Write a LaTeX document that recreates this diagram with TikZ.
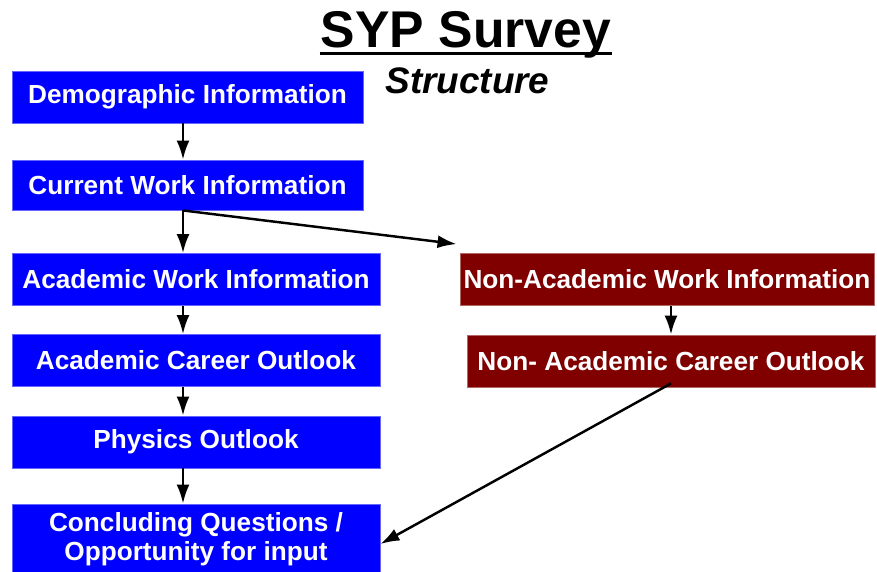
\documentclass[tikz,border=0pt]{standalone}
\usepackage{fontspec}
\setmainfont{Liberation Sans}
\usetikzlibrary{arrows.meta}

\definecolor{acadblue}{RGB}{0,0,255}
\definecolor{nonacadred}{RGB}{128,0,0}

\begin{document}
\begin{tikzpicture}[line width=1.4pt,
	arr/.style = {-{Latex[length=3.8mm,width=2.6mm]}},
	box/.style = {inner sep=0pt, minimum height=1.04cm, text=white, align=center, line width=0.5pt,
		font=\fontsize{14.9}{16.8}\selectfont\bfseries},
	acad/.style = {box, fill=acadblue, draw=acadblue!60!white, minimum width=7.36cm},
	nonacad/.style = {box, fill=nonacadred, draw=nonacadred!60!white}]

		\useasboundingbox (0,0) rectangle (17.54,-11.42);

		% title
		\node[anchor=base, inner sep=0pt, font=\fontsize{29.4}{34}\selectfont\bfseries] (ttl) at (9.32,-0.94) {SYP Survey};
		\node[anchor=base, inner sep=0pt, font=\fontsize{21}{25}\selectfont\bfseries\itshape] (sub) at (9.35,-1.86) {Structure};
		\draw[line width=0.05cm] ([yshift=-0.13cm]ttl.base west) to ([yshift=-0.13cm]ttl.base east);

		% academic column
		\node[acad, minimum width=7.02cm] (dem) at (3.75,-1.94) {Demographic Information};
		\node[acad, minimum width=7.02cm, minimum height=1.0cm] (cw) at (3.75,-3.7) {Current Work Information};
		\node[acad] (aw) at (3.92,-5.59) {Academic Work Information};
		\node[acad] (acc) at (3.92,-7.21) {Academic Career Outlook};
		\node[acad] (po) at (3.92,-8.84) {Physics Outlook};
		\node[acad, minimum height=1.4cm] (cq) at (3.92,-10.78) {Concluding Questions /\\Opportunity for input};

		% non-academic column
		\node[nonacad, minimum width=8.28cm] (naw) at (13.34,-5.59) {Non-Academic Work Information};
		\node[nonacad, minimum width=8.16cm] (nacc) at (13.42,-7.22) {Non- Academic Career Outlook};

		\coordinate (spine) at (3.66,0);

		\draw[arr] (dem.south -| spine) to (cw.north -| spine);
		\draw[arr] (cw.south -| spine) to (aw.north -| spine);
		\draw[arr] (cw.south -| spine) to ([xshift=-0.06cm,yshift=0.18cm]naw.north west);
		\draw[arr] (aw.south -| spine) to (acc.north -| spine);
		\draw[arr] (acc.south -| spine) to (po.north -| spine);
		\draw[arr] (po.south -| spine) to (cq.north -| spine);
		\draw[arr] (naw.south -| nacc) to (nacc.north);
		\draw[arr] ([yshift=0.08cm]nacc.south) to ([yshift=-0.1cm]cq.east);
	\end{tikzpicture}
\end{document}
